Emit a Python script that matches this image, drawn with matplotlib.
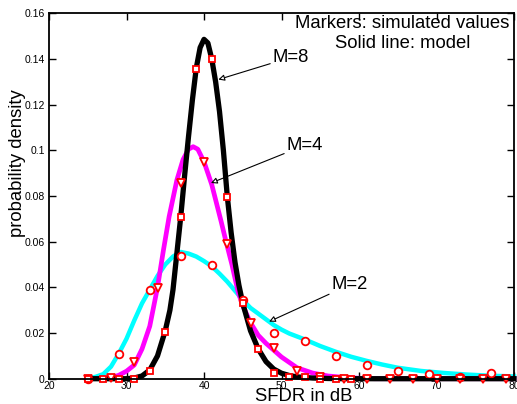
import numpy as np
import matplotlib
matplotlib.use("Agg")
import matplotlib.pyplot as plt
from matplotlib.ticker import FormatStrFormatter

plt.rcParams['font.family'] = ['Liberation Sans', 'DejaVu Sans']

# model curves
m8_x = [25, 30, 31, 32, 33, 34, 35, 35.6, 36, 36.5, 37, 37.5, 38, 38.5, 39, 39.5, 40,
        40.5, 41, 41.5, 42, 42.5, 43, 43.5, 44, 44.5, 45, 45.5, 46, 47, 48, 49, 50,
        51, 52, 54, 56, 58, 80]
m8_y = [0, 0, 0.0003, 0.0012, 0.0038, 0.010, 0.021, 0.030, 0.039, 0.055, 0.071, 0.089,
        0.106, 0.122, 0.136, 0.145, 0.1486, 0.147, 0.140, 0.130, 0.117, 0.100, 0.080,
        0.064, 0.051, 0.041, 0.033, 0.027, 0.021, 0.013, 0.0075, 0.0042, 0.0024,
        0.0014, 0.0008, 0.0003, 0.0001, 0, 0]

m4_x = [25, 27, 28, 29, 30, 31, 32, 33, 34, 34.75, 35.5, 36.5, 37.3, 38, 38.6, 39.2,
        40, 41, 41.6, 42.2, 42.7, 43, 43.6, 44.4, 45, 46, 47, 48, 49, 50, 52, 54, 56,
        58, 60, 62, 80]
m4_y = [0, 0.0001, 0.0005, 0.0015, 0.0033, 0.006, 0.013, 0.023, 0.040, 0.056, 0.071,
        0.087, 0.096, 0.1005, 0.1016, 0.1005, 0.095, 0.085, 0.077, 0.069, 0.062, 0.058,
        0.050, 0.038, 0.032, 0.0245, 0.019, 0.0155, 0.0125, 0.0095, 0.0048, 0.0025,
        0.0012, 0.0006, 0.0002, 0, 0]

m2_x = [25, 26, 27, 28, 29, 30, 31, 32, 33, 34, 35, 36, 37, 38, 39, 40, 41, 42, 43,
        44, 45, 46, 47, 48, 49, 50, 51, 53, 55, 57, 59, 61, 63, 65, 68, 71, 74, 77, 80]
m2_y = [0.0002, 0.0008, 0.002, 0.0053, 0.011, 0.0175, 0.0255, 0.033, 0.039, 0.045,
        0.050, 0.0535, 0.0555, 0.0548, 0.0535, 0.0515, 0.0492, 0.046, 0.0425, 0.0385,
        0.0345, 0.031, 0.0285, 0.026, 0.0235, 0.0215, 0.0198, 0.0172, 0.0143, 0.0118,
        0.0096, 0.0078, 0.0062, 0.0048, 0.0034, 0.0025, 0.0018, 0.0013, 0.0010]

# simulated values
sq_x = [25, 27, 29, 31, 33, 35, 37, 39, 41, 43, 45, 47, 49, 51, 53, 55, 57, 59]
sq_y = [0, 0, 0, 0, 0.0035, 0.0206, 0.0707, 0.1358, 0.1399, 0.0797, 0.0331, 0.0129,
        0.0026, 0.0009, 0.0006, 0, 0, 0]

tri_x = [25, 28, 31, 34, 37, 40, 43, 46, 49, 52, 55, 58, 61, 64, 67, 70, 73, 76, 79]
tri_y = [0, 0.0004, 0.0072, 0.0399, 0.0859, 0.0949, 0.059, 0.0245, 0.0133, 0.0032,
         0.0009, 0, 0, 0, 0, 0, 0, 0, 0]

circ_x = [25, 29, 33, 37, 41, 45, 49, 53, 57, 61, 65, 69, 73, 77]
circ_y = [0, 0.0108, 0.0387, 0.0539, 0.050, 0.0345, 0.0199, 0.0165, 0.0098, 0.0059,
          0.0035, 0.0022, 0.0009, 0.0025]

fig = plt.figure(figsize=(5.17, 4.04), dpi=100)
ax = fig.add_axes([0.0948, 0.0626, 0.8994, 0.9044])

ax.plot(m2_x, m2_y, color='#00ffff', lw=3.2, clip_on=False, solid_joinstyle='round')
ax.plot(m4_x, m4_y, color='#ff00ff', lw=3.4, clip_on=False, solid_joinstyle='round')
ax.plot(m8_x, m8_y, color='black', lw=3.8, clip_on=False, solid_joinstyle='round')

mk = dict(ls='none', mfc='white', mec='red', mew=1.3, clip_on=False)
ax.plot(circ_x, circ_y, marker='o', ms=5.5, **mk)
ax.plot(tri_x, tri_y, marker='v', ms=5.5, **mk)
ax.plot(sq_x, sq_y, marker='s', ms=5, **mk)

fs = 13.3
arr = dict(arrowstyle='-|>', fc='white', ec='black', lw=0.8, mutation_scale=9,
           shrinkA=0, shrinkB=0)
ax.annotate('M=8', xy=(41.85, 0.131), xytext=(48.9, 0.1388), fontsize=fs,
            va='baseline', arrowprops=arr)
ax.annotate('M=4', xy=(40.9, 0.0857), xytext=(50.7, 0.1003), fontsize=fs,
            va='baseline', arrowprops=arr)
ax.annotate('M=2', xy=(48.4, 0.025), xytext=(56.5, 0.0392), fontsize=fs,
            va='baseline', arrowprops=arr)

ax.text(65.6, 0.1537, 'Markers: simulated values', fontsize=fs, ha='center', va='baseline')
ax.text(65.6, 0.1450, 'Solid line: model', fontsize=fs, ha='center', va='baseline')

ax.set_xlim(20, 80)
ax.set_ylim(0, 0.16)
ax.set_xticks(np.arange(20, 81, 10))
ax.set_yticks(np.arange(0, 0.161, 0.02))
ax.yaxis.set_major_formatter(FormatStrFormatter('%g'))
ax.tick_params(direction='in', top=True, right=True, length=5, width=1,
               labelsize=7.5, pad=3)
ax.tick_params(axis='x', pad=2)
for s in ax.spines.values():
    s.set_linewidth(1.3)

ax.set_xlabel('SFDR in dB', fontsize=fs)
ax.xaxis.set_label_coords(0.547, -0.026)
ax.set_ylabel('probability density', fontsize=fs)
ax.yaxis.set_label_coords(-0.05, 0.59)

fig.savefig('out.png', dpi=100)
